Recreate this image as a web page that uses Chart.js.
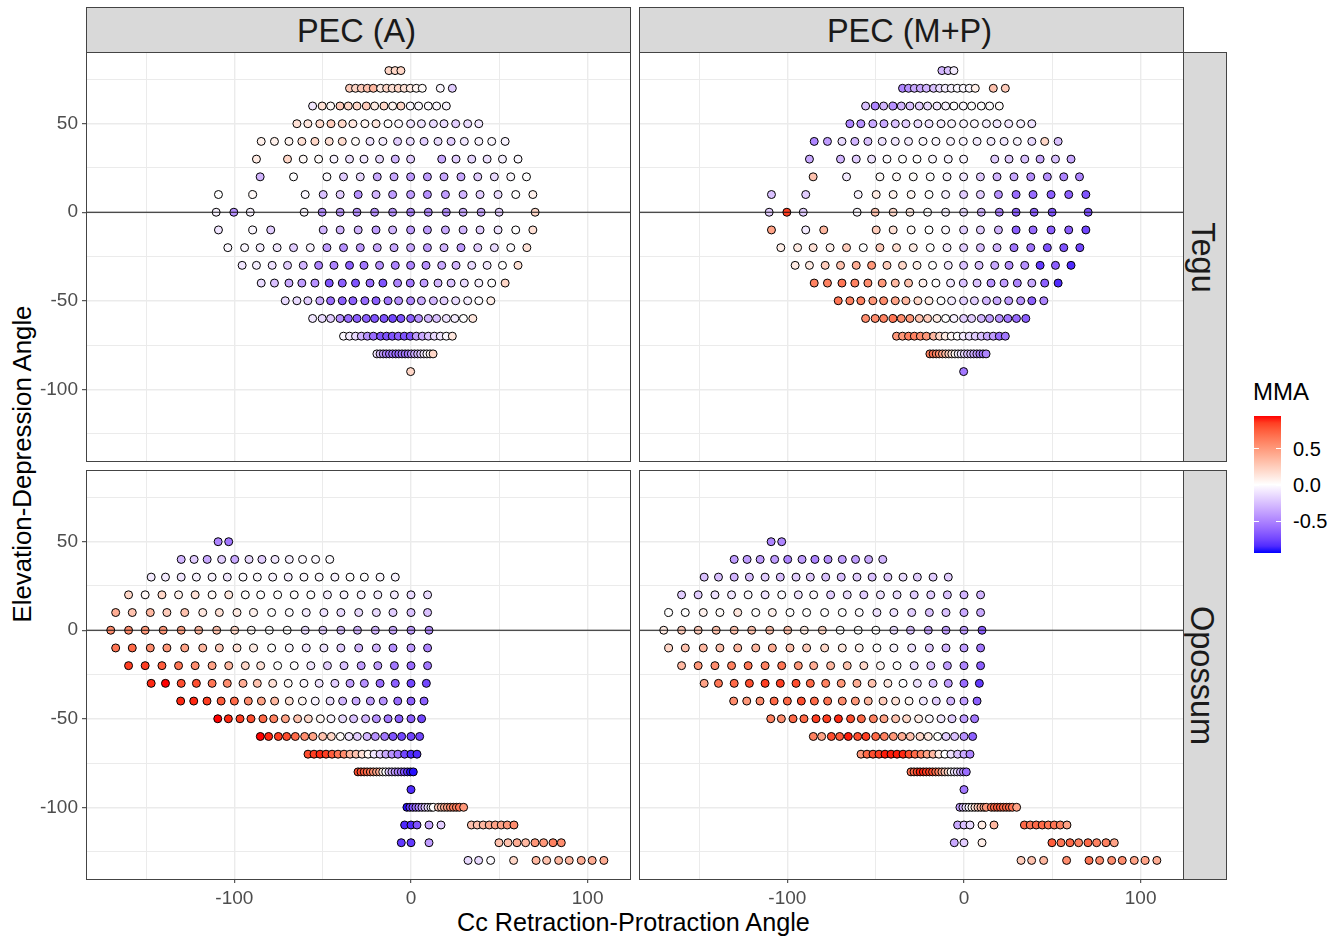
<!DOCTYPE html>
<html>
<head>
<meta charset="utf-8">
<script src="https://cdn.jsdelivr.net/npm/chart.js@4"></script>
<style>
html, body { margin: 0; padding: 0; background: #fff; }
body { position: relative; width: 1340px; height: 937px; overflow: hidden; font-family: "Liberation Sans", Arial, sans-serif; }
canvas { position: absolute; }
.strip { position: absolute; background: #d9d9d9; border: 1px solid #444; box-sizing: border-box; color: #1a1a1a; font-size: 32.5px; display: flex; align-items: center; justify-content: center; }
.strip span { white-space: nowrap; position: relative; top: 1px; left: -2px; }
.strip.side span { transform: rotate(90deg); top: 0; left: -3px; }
.label { position: absolute; white-space: nowrap; color: #000; }
#colorbar { position: absolute; left: 1254px; top: 416px; width: 27px; height: 137px; }
.barTick { position: absolute; background: #fff; height: 1px; width: 5px; }
</style>
</head>
<body>
<div class="strip" style="left:86px;top:7px;width:545px;height:46px"><span>PEC (A)</span></div>
<div class="strip" style="left:639px;top:7px;width:545px;height:46px"><span>PEC (M+P)</span></div>
<div class="strip side" style="left:1183px;top:52px;width:44px;height:410px"><span>Tegu</span></div>
<div class="strip side" style="left:1183px;top:470px;width:44px;height:410px"><span>Opossum</span></div>

<div class="label" style="left:457px;top:908px;font-size:25.2px">Cc Retraction-Protraction Angle</div>
<div class="label" style="left:22px;top:464px;font-size:25.8px;transform:translate(-50%,-50%) rotate(-90deg)">Elevation-Depression Angle</div>

<div class="label" style="left:1253px;top:378px;font-size:24px">MMA</div>
<div id="colorbar"></div>
<div class="label" style="left:1293px;top:438px;font-size:20px;color:#000">0.5</div>
<div class="label" style="left:1293px;top:474px;font-size:20px;color:#000">0.0</div>
<div class="label" style="left:1293px;top:510px;font-size:20px;color:#000">-0.5</div>

<canvas id="teguA"></canvas>
<canvas id="teguMP"></canvas>
<canvas id="opossumA"></canvas>
<canvas id="opossumMP"></canvas>

<script>
// Axes
const xRange = [-184, 124];
const yRange = [-140.5, 90.5];
const xMajor = [-100, 0, 100];
const xMinor = [-150, -50, 50];
const yMajor = [-100, -50, 0, 50];
const yMinor = [-125, -75, -25, 25, 75];
const legendTicks = [0.5, 0, -0.5];
const mmaLimit = 0.945;

// Tegu : une ligne par angle d'élévation
const teguY = [80, 70, 60, 50, 40, 30, 20, 10, 0, -10, -20, -30, -40, -50, -60, -70, -80, -90];
const teguX = [
    [-12.5, -9, -5.7],
    [-34.8, -31.4, -28.1, -24.7, -21.3, -17.2, -13.8, -10.6, -7.2, -3.8, -0.4, 3, 6.4, 16.6, 23.4],
    [-55.7, -50.3, -45.5, -40.2, -35.5, -30.6, -25.3, -20.6, -15.3, -10.4, -5.7, -0.4, 4.3, 9.8, 14.5, 20],
    [-64.6, -58.4, -51.6, -45.3, -38.9, -32.9, -26.1, -19.8, -13, -7, -0.2, 5.9, 12.7, 18.7, 25.3, 32.1, 38.4],
    [-84.8, -77.3, -69.1, -61.8, -54.4, -46.3, -38.9, -31.4, -23.2, -15.9, -7.6, -0.4, 7.4, 15.3, 22.7, 30.2, 38.4, 45.7, 53.3],
    [-87.5, -69.9, -61, -52.3, -43.6, -34.8, -26.6, -17.8, -8.9, -0.2, 17.4, 25.5, 34.4, 43.1, 51.8, 60.6],
    [-85.4, -66.5, -47.6, -38.2, -28.7, -19.1, -9.6, -0.2, 9.3, 18.7, 28.3, 37.8, 47.2, 56.5, 65.4],
    [-109, -89.6, -59.9, -49.7, -40.1, -29.9, -19.8, -10.4, -0.2, 9.3, 19.5, 29.5, 39.1, 49.3, 59.3, 69],
    [-110.3, -100.3, -91, -60.5, -50.3, -40.1, -30.6, -20.6, -10.4, -0.2, 9.8, 20, 29.5, 39.7, 49.9, 70.3],
    [-109, -89.6, -79.4, -49.7, -40.1, -29.9, -19.8, -10.4, -0.2, 9.3, 19.5, 29.5, 39.1, 49.3, 59.3, 69],
    [-103.7, -94.2, -85.4, -75.8, -66.5, -57, -47.6, -38.2, -28.7, -19.1, -9.6, -0.2, 9.3, 18.7, 28.3, 37.8, 47.2, 56.5, 65.6],
    [-95.6, -87.5, -78.6, -69.9, -61, -52.3, -43.6, -34.8, -26.6, -17.8, -8.9, -0.2, 8.5, 17.4, 25.5, 34.4, 43.1, 51.8, 60.6],
    [-84.8, -77.3, -69.1, -61.8, -54.4, -46.3, -38.9, -31.4, -23.2, -15.9, -7.6, -0.4, 7.4, 15.3, 22.7, 30.2, 38.4, 45.7, 53.3],
    [-71.2, -64.6, -58.4, -51.6, -45.5, -38.9, -32.9, -26.1, -19.8, -13, -7, -0.2, 5.9, 12.7, 18.7, 25.3, 32.1, 38.4, 45.2],
    [-55.7, -50.3, -45.5, -40.2, -35.5, -30.6, -25.3, -20.6, -15.3, -10.4, -5.7, -0.2, 4.3, 9.8, 14.5, 20, 24.8, 29.7, 35],
    [-38.2, -34.8, -31.4, -28.1, -24.7, -21.3, -17.2, -13.8, -10.6, -7.2, -3.8, -0.4, 3, 6.4, 9.8, 13.2, 16.6, 20, 23.4],
    [-19.3, -17.5, -15.7, -14, -12.2, -10.4, -8.6, -6.9, -5.1, -3.3, -1.6, 0.2, 2, 3.8, 5.5, 7.3, 9, 10.8, 12.5],
    [-0.2]
];
const teguAMma = [
    [.2, .2, .2],
    [.25, .2, .25, .3, .35, .1, .2, .15, .2, .15, .1, .05, .02, -.03, -.2],
    [-.1, .15, .03, .25, .2, .2, .25, .1, .2, .05, .2, -.02, -.02, -.02, -.03, -.05],
    [.15, .12, .18, .25, .2, .12, .05, .12, 0, -.03, -.12, -.12, -.15, -.15, -.2, -.15, -.1],
    [.07, .07, .05, .15, .2, .15, .17, .02, -.12, -.08, -.2, -.15, -.2, -.15, -.2, -.1, -.05, -.03, -.05],
    [.1, .2, .03, .02, -.05, -.12, -.1, -.15, -.3, -.2, -.35, -.2, -.17, -.12, -.07, -.03],
    [-.3, 0, -.02, -.2, -.15, -.35, -.35, -.4, -.4, -.35, -.35, -.2, -.15, -.03, 0],
    [0, .03, -.03, -.25, -.2, -.45, -.3, -.4, -.4, -.45, -.4, -.3, -.2, -.15, 0, .07],
    [-.05, -.45, -.05, -.03, -.45, -.4, -.45, -.45, -.45, -.5, -.45, -.45, -.35, -.35, -.2, .2],
    [-.1, -.03, -.2, -.3, -.3, -.3, -.4, -.3, -.4, -.4, -.35, -.3, -.2, -.12, 0, .15],
    [-.03, -.03, -.07, -.1, -.2, -.05, -.4, -.45, -.4, -.35, -.35, -.35, -.4, -.3, -.4, -.2, -.15, -.02, .15],
    [-.1, -.07, -.12, -.2, -.3, -.5, -.5, -.65, -.55, -.45, -.5, -.5, -.45, -.35, -.3, -.15, -.1, 0, .15],
    [-.15, -.25, -.35, -.4, -.45, -.7, -.65, -.7, -.6, -.7, -.5, -.55, -.4, -.3, -.25, -.15, -.07, 0, .2],
    [-.15, -.15, -.2, -.35, -.6, -.65, -.65, -.6, -.65, -.55, -.45, -.5, -.35, -.3, -.2, -.15, -.08, -.02, .08],
    [-.1, -.15, -.2, -.45, -.6, -.65, -.65, -.7, -.7, -.75, -.7, -.65, -.45, -.3, -.25, -.12, -.08, 0, .12],
    [-.03, -.08, -.15, -.3, -.45, -.6, -.7, -.7, -.7, -.65, -.7, -.7, -.4, -.35, -.25, -.15, -.1, -.03, .12],
    [-.1, -.25, -.4, -.5, -.55, -.55, -.6, -.6, -.55, -.55, -.55, -.45, -.35, -.3, -.25, -.1, -.03, .03, .2],
    [.2]
];
const teguMPMma = [
    [-.3, -.25, -.08],
    [-.5, -.45, -.35, -.35, -.3, -.25, -.15, -.08, -.05, -.03, -.03, -.03, .08, .3, .25],
    [-.25, -.5, -.3, -.45, -.3, -.25, -.2, -.15, -.1, -.05, 0, -.03, 0, 0, 0, .02],
    [-.5, -.45, -.35, -.35, -.25, -.2, -.15, -.12, -.08, -.05, -.05, -.03, -.07, -.1, -.1, -.07, -.12],
    [-.5, -.4, -.15, -.3, -.25, -.12, -.1, -.08, -.03, -.03, -.05, -.05, -.08, -.08, -.1, -.05, -.15, .2, -.25],
    [-.35, -.3, -.2, -.12, -.02, 0, 0, -.03, -.05, -.05, -.2, -.2, -.25, -.35, -.25, -.35],
    [.3, -.08, .02, .03, .02, 0, -.05, -.1, -.2, -.3, -.35, -.45, -.45, -.5, -.5],
    [-.25, -.2, -.05, .1, .07, .05, 0, -.07, -.2, -.2, -.45, -.6, -.6, -.65, -.65, -.7],
    [-.2, .85, -.2, -.03, .3, .2, .1, 0, -.05, -.15, -.3, -.5, -.65, -.65, -.7, -.7],
    [.45, -.08, .35, .25, .15, .03, 0, -.03, -.2, -.2, -.3, -.65, -.6, -.65, -.65, -.75],
    [.08, .1, .15, .07, .25, 0, .25, .17, .1, 0, -.08, -.2, -.25, -.3, -.55, -.55, -.7, -.7, -.75],
    [.1, .1, .25, .3, .4, .5, .25, .2, .08, 0, -.1, -.25, -.25, -.35, -.45, -.45, -.8, -.65, -.85],
    [.6, .6, .65, .6, .55, .5, .35, .3, .08, 0, -.1, -.25, -.25, -.45, -.4, -.5, -.35, -.65, -.85],
    [.65, .6, .6, .5, .55, .45, .35, .2, .1, 0, -.08, -.2, -.2, -.3, -.35, -.4, -.45, -.65, -.5],
    [.55, .55, .6, .65, .55, .5, .3, .25, .1, 0, -.05, -.2, -.2, -.3, -.4, -.45, -.55, -.6, -.65],
    [.5, .5, .6, .6, .55, .5, .35, .2, .1, .03, 0, -.08, -.15, -.2, -.25, -.35, -.4, -.6, -.55],
    [.6, .65, .6, .55, .45, .35, .25, .15, .05, -.05, -.1, -.15, -.25, -.25, -.35, -.4, -.5, -.55, -.5],
    [-.55]
];

// Opossum
const opossumY = [50, 40, 30, 20, 10, 0, -10, -20, -30, -40, -50, -60, -70, -80, -90, -100, -110, -120, -130];
const opossumX = [
    [-109.2, -103.2],
    [-130.1, -122.8, -115.4, -107.2, -99.8, -91.7, -84.4, -77, -68.9, -61.4, -54, -46],
    [-147.1, -139, -130.1, -121.5, -112.6, -104, -95.1, -87, -78.3, -69.5, -60.6, -52, -43.1, -34.5, -26.4, -17.5, -8.9],
    [-159.9, -150.5, -141, -131.6, -122.2, -112.6, -103.2, -93.8, -85.1, -75.5, -66.1, -56.7, -47.3, -37.9, -28.2, -18.8, -9.4, 0, 9.4],
    [-167.2, -157.8, -147.6, -138.2, -128.1, -117.9, -108.5, -98.5, -89.1, -78.9, -68.9, -59.3, -49.3, -39.7, -29.6, -19.6, -10.2, 0, 9.4],
    [-170, -159.9, -150.5, -140.3, -130.1, -120.2, -110, -99.8, -90.4, -80.2, -70.1, -59.9, -49.9, -39.7, -30.3, -20.2, -10.2, 0, 10.2],
    [-167.2, -157.8, -147.6, -138.2, -128.1, -117.9, -108.5, -98.5, -89.1, -78.9, -68.9, -59.3, -49.3, -39.7, -29.6, -19.6, -10.2, 0, 9.4],
    [-159.9, -150.5, -141, -131.6, -122.2, -112.6, -103.2, -93.8, -85.1, -75.5, -66.1, -56.7, -47.3, -37.9, -28.2, -18.8, -9.4, 0, 9.4],
    [-147.1, -139, -130.1, -121.5, -112.6, -104, -95.1, -87, -78.3, -69.5, -60.6, -52, -43.1, -34.5, -26.4, -17.5, -8.9, 0, 8.7],
    [-130.4, -123, -115.5, -107.5, -100, -92.1, -84.7, -77.2, -68.9, -61.5, -54.2, -45.8, -38.7, -31.1, -23, -15.7, -7.5, 0, 7.4],
    [-109.4, -103.4, -96.8, -90.6, -83.8, -77.7, -71.1, -64.2, -58.1, -51.3, -45.3, -38.7, -32.5, -25.7, -19.6, -13, -6.8, 0, 6],
    [-85.3, -80.6, -75.1, -70.4, -65.5, -60.2, -55.5, -50, -45.1, -40, -35.1, -30.4, -24.9, -20.2, -14.9, -10.2, -5.3, 0, 4.9],
    [-58.3, -54.9, -51.5, -48.1, -44.7, -41.3, -37.9, -34.5, -31.1, -27.7, -24.3, -20.9, -17.5, -14.2, -10.8, -7.4, -3.6, 0, 3.4],
    [-30, -28.3, -26.5, -24.8, -23, -21.3, -19.5, -17.8, -16, -14.3, -12.5, -10.8, -9, -7.3, -5.5, -3.8, -2, -0.3, 1.3],
    [0],
    [-2.3, -0.6, 1.1, 2.8, 4.5, 6.2, 7.9, 9.6, 11.3, 12.6, 15.5, 17.2, 18.9, 20.6, 22.3, 24, 25.7, 27.4, 29.8],
    [-3.6, 0, 3.4, 10.2, 17, 34.2, 37.5, 40.9, 44.3, 47.7, 51.1, 54.5, 58.3],
    [-5.5, 0, 10.2, 49.8, 54.9, 60, 64.9, 70.2, 75.1, 80.4, 85.1],
    [32.3, 38.3, 45.1, 58.1, 70.8, 76.8, 83.6, 89.6, 96.4, 102.6, 109.2]
];
const opossumAMma = [
    [-.5, -.55],
    [-.3, -.2, -.35, -.2, -.35, -.15, -.2, -.1, -.07, -.03, -.03, -.02],
    [-.08, -.08, -.1, -.05, -.05, -.1, -.02, -.02, -.05, -.07, -.03, -.03, -.05, 0, 0, -.03, -.05],
    [.2, .03, .2, .07, .15, .03, .12, 0, 0, 0, 0, 0, -.08, -.05, -.05, -.08, -.08, -.15, -.15],
    [.4, .3, .35, .25, .3, .12, .15, .1, .07, 0, -.02, -.08, -.12, -.15, -.15, -.15, -.2, -.25, -.25],
    [.55, .55, .5, .5, .45, .35, .3, .2, .03, 0, 0, -.15, -.2, -.25, -.3, -.3, -.35, -.4, -.45],
    [.65, .7, .55, .5, .45, .35, .25, .15, .1, 0, -.03, -.1, -.12, -.2, -.3, -.3, -.45, -.4, -.5],
    [.85, .85, .75, .65, .55, .45, .35, .2, .15, 0, 0, -.1, -.2, -.25, -.4, -.4, -.55, -.6, -.55],
    [.9, .95, .8, .8, .65, .55, .4, .3, .15, .03, -.03, -.12, -.2, -.4, -.45, -.6, -.65, -.75, -.75],
    [.9, .9, .85, .75, .7, .55, .45, .35, .15, .05, -.05, -.15, -.3, -.35, -.4, -.45, -.6, -.65, -.65],
    [.95, .9, .85, .8, .7, .6, .45, .3, .2, .05, -.05, -.15, -.25, -.3, -.45, -.55, -.65, -.65, -.75],
    [.95, .9, .85, .8, .7, .55, .45, .3, .2, .02, -.1, -.2, -.3, -.45, -.55, -.7, -.75, -.75, -.75],
    [.8, .85, .9, .85, .75, .65, .55, .35, .3, .15, .05, -.1, -.2, -.35, -.45, -.55, -.75, -.85, -.85],
    [.8, .8, .75, .7, .65, .55, .45, .4, .1, 0, -.2, -.3, -.4, -.5, -.55, -.7, -.8, -.92, -.92],
    [-.85],
    [-.92, -.8, -.7, -.6, -.5, -.4, -.25, -.15, -.05, 0, .25, .3, .4, .45, .55, .6, .6, .65, .5],
    [-.85, -.85, -.7, -.35, -.2, .3, .3, .35, .4, .45, .45, .5, .55],
    [-.8, -.8, -.4, .3, .3, .4, .35, .5, .5, .6, .55],
    [-.15, -.15, -.02, .2, .35, .3, .35, .35, .4, .4, .4]
];
const opossumMPMma = [
    [-.5, -.5],
    [-.4, -.4, -.4, -.4, -.5, -.4, -.5, -.45, -.4, -.4, -.35, -.3],
    [-.25, -.25, -.3, -.25, -.2, -.25, -.2, -.2, -.25, -.25, -.2, -.25, -.2, -.15, -.2, -.2, -.2],
    [-.2, -.2, -.12, -.1, -.03, -.12, -.02, -.12, -.03, -.2, -.15, -.2, -.12, -.15, -.2, -.2, -.25, -.3, -.3],
    [0, 0, .07, .02, .12, 0, .07, 0, 0, 0, 0, -.02, -.12, -.12, -.2, -.25, -.25, -.35, -.35],
    [.1, .25, .25, .3, .3, .3, .3, .3, .1, .2, 0, 0, 0, -.15, -.25, -.35, -.4, -.4, -.65],
    [.2, .3, .35, .3, .35, .35, .4, .3, .25, .2, .12, .07, 0, -.05, -.12, -.2, -.3, -.4, -.55],
    [.35, .5, .55, .6, .65, .6, .65, .5, .4, .35, .3, .2, .05, 0, -.15, -.25, -.4, -.5, -.65],
    [.45, .65, .7, .8, .85, .85, .8, .7, .6, .5, .4, .3, .12, 0, -.12, -.25, -.4, -.6, -.8],
    [.55, .5, .55, .7, .7, .8, .7, .65, .55, .5, .35, .25, .15, .05, -.1, -.2, -.3, -.4, -.65],
    [.6, .55, .7, .7, .85, .85, .9, .8, .7, .6, .45, .3, .2, .1, -.03, -.1, -.2, -.4, -.55],
    [.6, .45, .8, .75, .92, .8, .85, .7, .6, .5, .4, .3, .2, .12, 0, -.2, -.25, -.45, -.65],
    [.5, .7, .8, .85, .92, .92, .92, .9, .8, .7, .6, .45, .35, .1, 0, -.12, -.25, -.35, -.5],
    [.65, .7, .8, .9, .9, .85, .85, .8, .7, .6, .45, .3, .2, .02, -.1, -.15, -.3, -.45, -.6],
    [-.55],
    [-.4, -.3, -.15, -.03, .05, .15, .25, .35, .4, .5, .65, .7, .75, .75, .7, .7, .7, .65, .45],
    [-.35, -.25, -.15, .1, .35, .7, .65, .7, .7, .65, .65, .6, .45],
    [-.35, -.2, .08, .75, .65, .7, .6, .7, .6, .6, .45],
    [.25, .3, .35, .55, .65, .55, .55, .55, .45, .45, .4]
];

// Conversion rgb <-> Lab pour le dégradé bleu-blanc-rouge (comme scale_fill_gradient2)
function rgbToLab(c) {
    const lin = c.map(v => { v /= 255; return v > 0.04045 ? Math.pow((v + 0.055) / 1.055, 2.4) : v / 12.92; });
    const f = t => t > 0.008856 ? Math.cbrt(t) : 7.787 * t + 16 / 116;
    const X = f((0.4124 * lin[0] + 0.3576 * lin[1] + 0.1805 * lin[2]) / 0.95047);
    const Y = f(0.2126 * lin[0] + 0.7152 * lin[1] + 0.0722 * lin[2]);
    const Z = f((0.0193 * lin[0] + 0.1192 * lin[1] + 0.9505 * lin[2]) / 1.08883);
    return [116 * Y - 16, 500 * (X - Y), 200 * (Y - Z)];
}
function labToRgb(l) {
    const Y = (l[0] + 16) / 116, X = l[1] / 500 + Y, Z = Y - l[2] / 200;
    const g = t => t > 0.2069 ? t * t * t : (t - 16 / 116) / 7.787;
    const x = g(X) * 0.95047, y = g(Y), z = g(Z) * 1.08883;
    const lin = [
        3.2406 * x - 1.5372 * y - 0.4986 * z,
        -0.9689 * x + 1.8758 * y + 0.0415 * z,
        0.0557 * x - 0.2040 * y + 1.0570 * z
    ];
    return lin.map(v => {
        v = Math.min(1, Math.max(0, v));
        return Math.round(255 * (v > 0.0031308 ? 1.055 * Math.pow(v, 1 / 2.4) - 0.055 : 12.92 * v));
    });
}
const labWhite = rgbToLab([255, 255, 255]);
const labRed = rgbToLab([255, 0, 0]);
const labBlue = rgbToLab([0, 0, 255]);
function mmaColor(v) {
    const t = Math.min(1, Math.abs(v) / mmaLimit);
    const end = v >= 0 ? labRed : labBlue;
    const rgb = labToRgb(labWhite.map((w, i) => w + (end[i] - w) * t));
    return `rgb(${rgb[0]},${rgb[1]},${rgb[2]})`;
}

// Trace le contour du panneau au dessus de la grille
const panelBorder = {
    id: 'panelBorder',
    afterDraw(chart) {
        const { ctx, chartArea: a } = chart;
        ctx.save();
        ctx.strokeStyle = '#444444';
        ctx.lineWidth = 1;
        ctx.strokeRect(a.left + 0.5, a.top + 0.5, a.right - a.left, a.bottom - a.top);
        ctx.restore();
    }
};

function axisOptions(range, major, minor, showLabels, fitSize, horizontal) {
    return {
        type: 'linear',
        min: range[0],
        max: range[1],
        afterBuildTicks: scale => {
            scale.ticks = major.concat(minor).map(v => ({ value: v }));
        },
        afterFit: scale => {
            if (horizontal) scale.height = fitSize; else scale.width = fitSize;
            // pas de marge pour les libellés qui débordent
            scale.paddingLeft = scale.paddingRight = scale.paddingTop = scale.paddingBottom = 0;
        },
        border: { display: false },
        grid: {
            color: '#ebebeb',
            lineWidth: c => major.includes(c.tick.value) ? 1.4 : 1,
            drawTicks: showLabels,
            tickLength: 4,
            tickColor: c => major.includes(c.tick.value) ? '#333333' : 'rgba(0,0,0,0)',
            tickWidth: 1
        },
        ticks: {
            display: showLabels,
            autoSkip: false,
            maxRotation: 0,
            minRotation: 0,
            padding: 4,
            color: '#4d4d4d',
            font: { family: '"Liberation Sans"', size: 19 },
            callback: v => major.includes(v) ? String(v) : ''
        }
    };
}

// Un graphique par facette
function drawPanel(id, box, ys, xs, values, showY, showX) {
    const points = [];
    const colors = [];
    ys.forEach((y, r) => {
        if (xs[r].length !== values[r].length) throw new Error(id + ' row ' + y);
        xs[r].forEach((x, i) => {
            points.push({ x: x, y: y });
            colors.push(mmaColor(values[r][i]));
        });
    });
    const canvas = document.getElementById(id);
    canvas.style.left = box.left + 'px';
    canvas.style.top = box.top + 'px';
    canvas.width = box.width;
    canvas.height = box.height;
    return new Chart(canvas.getContext('2d'), {
        data: {
            datasets: [
                {
                    type: 'line',
                    data: [{ x: xRange[0], y: 0 }, { x: xRange[1], y: 0 }],
                    borderColor: '#111111',
                    borderWidth: 1,
                    pointRadius: 0,
                    order: 0
                },
                {
                    type: 'scatter',
                    data: points,
                    backgroundColor: colors,
                    borderColor: '#000000',
                    borderWidth: 1,
                    pointRadius: 4,
                    order: 1
                }
            ]
        },
        options: {
            responsive: false,
            animation: false,
            layout: { autoPadding: false, padding: box.padding },
            plugins: { legend: { display: false }, tooltip: { enabled: false } },
            scales: {
                x: axisOptions(xRange, xMajor, xMinor, showX, showX ? 30 : 0, true),
                y: axisOptions(yRange, yMajor, yMinor, showY, showY ? 86 : 0, false)
            }
        },
        plugins: [panelBorder]
    });
}

drawPanel('teguA', { left: 0, top: 50, width: 632, height: 413, padding: { top: 2, right: 2, bottom: 2, left: 0 } }, teguY, teguX, teguAMma, true, false);
drawPanel('teguMP', { left: 637, top: 50, width: 548, height: 413, padding: { top: 2, left: 2, right: 2, bottom: 2 } }, teguY, teguX, teguMPMma, false, false);
drawPanel('opossumA', { left: 0, top: 468, width: 632, height: 441, padding: { top: 2, right: 2, bottom: 0, left: 0 } }, opossumY, opossumX, opossumAMma, true, true);
drawPanel('opossumMP', { left: 637, top: 468, width: 548, height: 441, padding: { top: 2, left: 2, right: 2, bottom: 0 } }, opossumY, opossumX, opossumMPMma, false, true);

// Barre de couleur de la légende
const stops = [];
for (let i = 0; i <= 20; i++) {
    const v = mmaLimit - i * (2 * mmaLimit) / 20;
    stops.push(mmaColor(v) + ' ' + (i * 5) + '%');
}
const bar = document.getElementById('colorbar');
bar.style.background = 'linear-gradient(to bottom, ' + stops.join(', ') + ')';
legendTicks.forEach(v => {
    const top = 68.5 - v * 73;
    [0, 22].forEach(left => {
        const t = document.createElement('div');
        t.className = 'barTick';
        t.style.left = left + 'px';
        t.style.top = top + 'px';
        bar.appendChild(t);
    });
});
</script>
</body>
</html>
